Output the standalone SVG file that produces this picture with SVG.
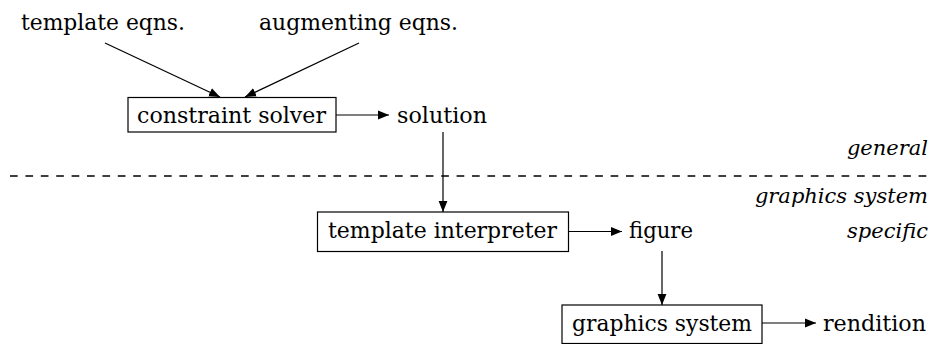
<svg xmlns="http://www.w3.org/2000/svg" width="938" height="344" viewBox="0 0 938 344">
<style>
text{font-family:'DejaVu Serif','Liberation Serif',serif;font-size:22px;fill:#000}
.it{font-style:italic;font-size:21px;text-anchor:end}
.box{fill:#fff;stroke:#000;stroke-width:1.2}
.arr{fill:none;stroke:#000;stroke-width:1.2;marker-end:url(#ah)}
.dash{fill:none;stroke:#000;stroke-width:1.3;stroke-dasharray:7.7 7.7}
</style>
<defs>
<marker id="ah" markerUnits="userSpaceOnUse" markerWidth="12" markerHeight="10" viewBox="0 0 12 10" refX="11" refY="5" orient="auto">
<path d="M0,0.6 L11,5 L0,9.4 Z" fill="#000"/>
</marker>
</defs>
<g id="connectors">
<line class="arr" x1="105" y1="43" x2="220" y2="97"/>
<line class="arr" x1="359" y1="43" x2="245" y2="97"/>
<line class="arr" x1="336" y1="115" x2="389" y2="115"/>
<line class="arr" x1="443" y1="132" x2="443" y2="212"/>
<line class="arr" x1="568" y1="231.5" x2="622" y2="231.5"/>
<line class="arr" x1="662" y1="251" x2="662" y2="305"/>
<line class="arr" x1="762" y1="323" x2="816" y2="323"/>
<line class="dash" x1="10" y1="176" x2="930" y2="176"/>
</g>
<g id="template-eqns"><text x="21" y="30" textLength="164" lengthAdjust="spacingAndGlyphs">template eqns.</text></g>
<g id="augmenting-eqns"><text x="259" y="30" textLength="199" lengthAdjust="spacingAndGlyphs">augmenting eqns.</text></g>
<g id="constraint-solver">
<rect class="box" x="128" y="97.5" width="208" height="34.5"/>
<text x="137" y="123" textLength="189" lengthAdjust="spacingAndGlyphs">constraint solver</text>
</g>
<g id="solution"><text x="397" y="123" textLength="90" lengthAdjust="spacingAndGlyphs">solution</text></g>
<g id="general"><text class="it" x="928" y="155">general</text></g>
<g id="graphics-system-specific">
<text class="it" x="928" y="203">graphics system</text>
<text class="it" x="928" y="238">specific</text>
</g>
<g id="template-interpreter">
<rect class="box" x="317.5" y="212" width="251" height="39.5"/>
<text x="328" y="238" textLength="229" lengthAdjust="spacingAndGlyphs">template interpreter</text>
</g>
<g id="figure"><text x="629" y="238" textLength="64" lengthAdjust="spacingAndGlyphs">figure</text></g>
<g id="graphics-system">
<rect class="box" x="562" y="305" width="200" height="38.5"/>
<text x="572" y="331" textLength="180" lengthAdjust="spacingAndGlyphs">graphics system</text>
</g>
<g id="rendition"><text x="823" y="331" textLength="103" lengthAdjust="spacingAndGlyphs">rendition</text></g>
</svg>
